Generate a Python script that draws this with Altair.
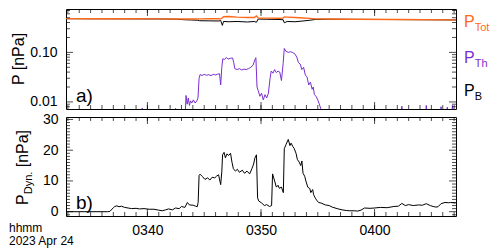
import altair as alt
import pandas as pd

FONT = "Liberation Sans"
ORANGE = "#ff6a1a"
PURPLE = "#7b2fd0"

# ---- data (time = minutes after 03:30 UT, 2023 Apr 24) ----
t_pb = [2.8, 5.0, 8.0, 11.0, 12.5, 13.3, 13.9, 14.4, 14.6, 15.5, 16.3, 16.45, 16.6, 16.7,
        17.2, 17.9, 18.8, 19.4, 19.6, 19.75, 20.5, 21.5, 21.95, 22.05, 22.3, 23.0, 23.7,
        24.3, 24.8, 26.0, 28.0, 32.0, 37.2]
p_tot = [0.480, 0.478, 0.476, 0.474, 0.472, 0.470, 0.470, 0.472, 0.475, 0.478, 0.480, 0.470,
         0.500, 0.525, 0.530, 0.515, 0.505, 0.505, 0.545, 0.495, 0.490, 0.488, 0.490, 0.520,
         0.515, 0.505, 0.495, 0.485, 0.475, 0.470, 0.466, 0.460, 0.452]
p_b = [0.478, 0.476, 0.474, 0.472, 0.468, 0.455, 0.450, 0.445, 0.435, 0.432, 0.430, 0.440,
       0.350, 0.420, 0.415, 0.420, 0.410, 0.420, 0.405, 0.470, 0.465, 0.462, 0.455, 0.395,
       0.420, 0.415, 0.430, 0.445, 0.462, 0.466, 0.464, 0.459, 0.451]

t_th = [2.8, 9.45, 9.55, 9.65, 12.4, 12.49, 12.58, 13.3, 13.4, 13.5, 13.6, 13.7, 13.8, 13.9,
        14.05, 14.2, 14.35, 14.45, 14.55, 14.65, 14.8, 15.0, 15.2, 15.4, 15.6, 15.8, 16.0,
        16.2, 16.35, 16.45, 16.55, 16.65, 16.8, 16.95, 17.1, 17.3, 17.5, 17.6, 17.7, 17.9,
        18.1, 18.3, 18.5, 18.7, 18.9, 19.1, 19.3, 19.45, 19.55, 19.65, 19.75, 19.9, 20.05,
        20.2, 20.35, 20.5, 20.65, 20.8, 20.9, 21.05, 21.2, 21.35, 21.5, 21.65, 21.8, 21.95,
        22.05, 22.2, 22.4, 22.6, 22.8, 23.0, 23.15, 23.3, 23.45, 23.6, 23.75, 23.9, 24.05,
        24.2, 24.35, 24.5, 24.6, 24.7, 24.85, 25.0, 25.1, 25.25, 25.35, 32.3, 32.4, 32.5,
        34.45, 34.56, 34.65, 35.75, 35.85, 35.95, 36.3, 36.4, 36.5, 36.75, 36.85, 37.0]
p_th = [0.004, 0.004, 0.0075, 0.004, 0.004, 0.0074, 0.004, 0.004, 0.0135, 0.009, 0.012,
        0.0085, 0.0105, 0.0095, 0.011, 0.0095, 0.0105, 0.012, 0.030, 0.036, 0.034, 0.036,
        0.0345, 0.0355, 0.034, 0.036, 0.035, 0.0365, 0.037, 0.022, 0.050, 0.074, 0.072,
        0.079, 0.073, 0.076, 0.077, 0.062, 0.047, 0.045, 0.047, 0.044, 0.046, 0.045, 0.047,
        0.050, 0.055, 0.070, 0.078, 0.020, 0.017, 0.013, 0.015, 0.011, 0.014, 0.012, 0.015,
        0.030, 0.042, 0.038, 0.045, 0.039, 0.042, 0.040, 0.027, 0.060, 0.120, 0.105, 0.100,
        0.103, 0.099, 0.092, 0.080, 0.062, 0.058, 0.045, 0.050, 0.035, 0.032, 0.022, 0.025,
        0.018, 0.020, 0.014, 0.013, 0.011, 0.0095, 0.0075, 0.004, 0.004, 0.0082, 0.004,
        0.004, 0.0085, 0.004, 0.004, 0.008, 0.004, 0.004, 0.0078, 0.004, 0.004, 0.0085, 0.004]

t_dyn = [2.83, 4.5, 6.5, 6.71, 7.0, 7.14, 7.32, 7.5, 7.7, 8.0, 8.3, 8.6, 9.0, 9.3, 9.7,
         10.16, 10.59, 11.0, 11.3, 11.6, 11.88, 12.2, 12.49, 12.8, 13.0, 13.3, 13.52, 13.7,
         14.04, 14.25, 14.39, 14.47, 14.55, 14.64, 14.85, 15.07, 15.3, 15.5, 15.7, 15.94,
         16.1, 16.28, 16.45, 16.55, 16.63, 16.75, 16.88, 17.0, 17.15, 17.32, 17.45, 17.57,
         17.75, 17.92, 18.1, 18.35, 18.55, 18.78, 19.0, 19.21, 19.35, 19.47, 19.6, 19.7,
         19.8, 20.07, 20.3, 20.5, 20.75, 20.94, 21.02, 21.2, 21.36, 21.5, 21.62, 21.8, 21.97,
         22.06, 22.2, 22.4, 22.55, 22.66, 22.8, 22.92, 23.09, 23.2, 23.35, 23.5, 23.6, 23.7,
         23.85, 23.95, 24.13, 24.3, 24.39, 24.56, 24.64, 24.82, 24.95, 25.07, 25.3, 25.68,
         26.0, 26.28, 26.71, 27.14, 27.5, 27.83, 28.2, 28.52, 28.8, 29.13, 29.6, 29.99,
         30.5, 31.11, 31.71, 32.1, 32.4, 32.7, 33.0, 33.4, 33.87, 34.2, 34.56, 34.9, 35.16,
         35.4, 35.59, 35.85, 36.2, 36.5, 36.71, 37.14]
p_dyn = [0.0, 0.0, 0.0, 0.1, 1.3, 1.7, 1.9, 1.6, 1.8, 1.4, 1.2, 1.0, 1.1, 0.9, 1.0,
         0.8, 0.8, 0.5, 0.3, 0.6, 0.9, 0.6, 1.2, 1.0, 1.7, 1.4, 3.0, 2.2,
         2.1, 1.8, 1.6, 3.0, 11.8, 12.2, 11.4, 10.5, 11.0, 10.3, 11.2, 11.0,
         11.6, 12.0, 8.8, 13.0, 18.5, 19.3, 17.5, 18.8, 18.3, 19.0, 16.0, 14.0,
         13.2, 13.8, 12.8, 13.5, 12.5, 13.2, 12.3, 14.0, 15.5, 17.5, 18.5, 4.5,
         3.5, 2.8, 2.0, 2.3, 1.7, 2.0, 12.3, 10.0, 8.0, 8.6, 7.6, 8.0, 6.2,
         20.5, 21.8, 23.5, 21.5, 22.3, 21.2, 20.6, 19.0, 17.0, 16.2, 15.0, 16.5, 12.5,
         11.5, 10.0, 8.0, 7.5, 6.2, 7.2, 5.5, 4.2, 3.5, 3.0, 2.8, 2.2,
         2.0, 1.5, 1.0, 0.6, 0.4, 0.3, 0.3, 0.2, 0.5, 1.2, 1.1, 1.2,
         1.4, 1.3, 1.7, 1.8, 2.7, 2.0, 2.3, 2.0, 2.2, 2.1, 2.6, 2.0, 1.7,
         1.5, 1.6, 2.6, 3.0, 2.9, 3.0, 2.8]

# axis ticks / labels
x_major = [10, 20, 30]            # 0340, 0350, 0400
x_minor = list(range(3, 38))      # every minute
ya_major = [0.01, 0.1]
ya_minor = [0.008, 0.009, 0.02, 0.03, 0.04, 0.05, 0.06, 0.07, 0.08, 0.09,
            0.2, 0.3, 0.4, 0.5, 0.6, 0.7]
yb_major = [0, 10, 20, 30]
yb_minor = [v for v in range(-1, 31) if v % 10 != 0]

W, HA, HB = 390, 100, 99
MAJ, MIN = 14, 8   # tick mark sizes (double length, half is clipped)

base = pd.Timestamp("2023-04-24 03:30:00")


def times(mins):
    return [(base + pd.Timedelta(minutes=m)).strftime("%Y-%m-%dT%H:%M:%S") for m in mins]


def dt(h, m, s=0):
    return alt.DateTime(year=2023, month=4, date=24, hours=h, minutes=m, seconds=s)


xscale = alt.Scale(domain=[dt(3, 32, 50), dt(4, 7, 10)])
ya_scale = alt.Scale(type="log", domain=[0.0072, 0.75])
yb_scale = alt.Scale(domain=[-1.4, 30.8])

df_ab = pd.DataFrame({"t": times(t_pb), "ptot": p_tot, "pb": p_b})
df_th = pd.DataFrame({"t": times(t_th), "pth": p_th})
df_dyn = pd.DataFrame({"t": times(t_dyn), "pdyn": p_dyn})

xt = pd.DataFrame({"t": times(x_major + x_minor),
                   "len": [MAJ] * len(x_major) + [MIN] * len(x_minor)})
yta = pd.DataFrame({"v": ya_major + ya_minor,
                    "len": [MAJ] * len(ya_major) + [MIN] * len(ya_minor)})
ytb = pd.DataFrame({"v": yb_major + yb_minor,
                    "len": [MAJ] * len(yb_major) + [MIN] * len(yb_minor)})

ya_axis = alt.Axis(values=ya_major, format=".2f", title=None, ticks=False, tickSize=0,
                   domain=False, grid=False, labelPadding=9)
yb_axis = alt.Axis(values=yb_major, format="d", title=None, ticks=False, tickSize=0,
                   domain=False, grid=False, labelPadding=8)
xb_axis = alt.Axis(values=[dt(3, 40), dt(3, 50), dt(4, 0)], format="%H%M", title=None,
                   ticks=False, tickSize=0, domain=False, grid=False, labelPadding=7)


def xticks(ypix, axis):
    return alt.Chart(xt).mark_tick(orient="vertical", clip=True, color="black", thickness=1).encode(
        x=alt.X("t:T", scale=xscale, axis=axis),
        y=alt.value(ypix),
        size=alt.Size("len:Q", scale=None, legend=None))


def yticks(df, scale, xpix, axis):
    return alt.Chart(df).mark_tick(orient="horizontal", clip=True, color="black", thickness=1).encode(
        y=alt.Y("v:Q", scale=scale, axis=axis),
        x=alt.value(xpix),
        size=alt.Size("len:Q", scale=None, legend=None))


def txt(s, x, y, size=14, color="black", angle=0, align="left", baseline="middle"):
    return alt.Chart(alt.Data(values=[{}])).mark_text(
        text=s, fontSize=size, color=color, angle=angle, align=align,
        baseline=baseline, font=FONT).encode(x=alt.value(x), y=alt.value(y))


def pline(df, field, color, sw, scale, xaxis, yaxis):
    return alt.Chart(df).mark_line(color=color, strokeWidth=sw, clip=True).encode(
        x=alt.X("t:T", scale=xscale, axis=xaxis),
        y=alt.Y(f"{field}:Q", scale=scale, axis=yaxis))


LX = W + 8
panel_a = alt.layer(
    pline(df_ab, "pb", "black", 1, ya_scale, None, ya_axis),
    pline(df_th, "pth", PURPLE, 1, ya_scale, None, ya_axis),
    pline(df_ab, "ptot", ORANGE, 1.4, ya_scale, None, ya_axis),
    xticks(0, None), xticks(HA, None),
    yticks(yta, ya_scale, 0, ya_axis), yticks(yta, ya_scale, W, ya_axis),
    txt("a)", 10, 87, size=19),
    txt("P [nPa]", -47, HA / 2, size=16, angle=270, align="center"),
    txt("P", LX, 18, size=16, color=ORANGE, baseline="alphabetic"),
    txt("Tot", LX + 10.7, 22, size=11, color=ORANGE, baseline="alphabetic"),
    txt("P", LX, 54, size=16, color=PURPLE, baseline="alphabetic"),
    txt("Th", LX + 10.7, 58, size=11, color=PURPLE, baseline="alphabetic"),
    txt("P", LX, 87, size=16, color="black", baseline="alphabetic"),
    txt("B", LX + 10.7, 91, size=11, color="black", baseline="alphabetic"),
).properties(width=W, height=HA)

PY = HB - 11
panel_b = alt.layer(
    pline(df_dyn, "pdyn", "black", 1, yb_scale, xb_axis, yb_axis),
    xticks(0, xb_axis), xticks(HB, xb_axis),
    yticks(ytb, yb_scale, 0, yb_axis), yticks(ytb, yb_scale, W, yb_axis),
    txt("b)", 10, 86, size=19),
    txt("P", -43, PY, size=16, angle=270, align="left"),
    txt("Dyn.", -37, PY - 10.7, size=11, angle=270, align="left"),
    txt("[nPa]", -43, PY - 10.7 - 22.6 - 4.4, size=16, angle=270, align="left"),
    txt("hhmm", -57, HB + 12, size=12),
    txt("2023 Apr 24", -57, HB + 25, size=12),
).properties(width=W, height=HB)

chart = alt.vconcat(panel_a, panel_b, spacing=8, bounds="flush").properties(
    padding=0
).configure_view(stroke="black", strokeWidth=1).configure_axis(
    labelFont=FONT, labelFontSize=14, labelColor="black"
)

chart.save("out.html", embed_options={"renderer": "svg", "actions": False})
